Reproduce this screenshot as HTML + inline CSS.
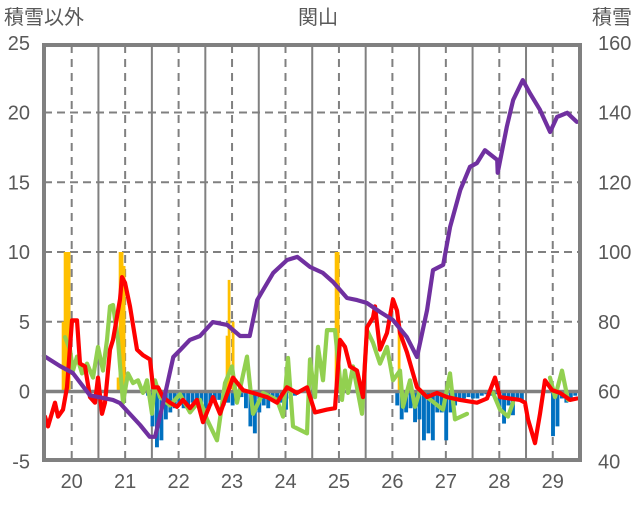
<!DOCTYPE html>
<html><head><meta charset="utf-8"><style>
body{margin:0;background:#fff}
svg text{font-family:"Liberation Sans","Noto Sans CJK JP",sans-serif;fill:#595959}
</style></head><body>
<svg id="c" width="636" height="501" xmlns="http://www.w3.org/2000/svg"></svg>
<script>
const leftTicks=[25,20,15,10,5,0,-5];
const rightTicks=[160,140,120,100,80,60,40];
const dayTicks=[20,21,22,23,24,25,26,27,28,29];
const depthDays=[19.48,19.78,20.02,20.34,20.77,20.90,21.28,21.46,21.56,21.71,21.90,22.03,22.21,22.40,22.64,22.91,23.15,23.33,23.47,23.58,23.77,24.03,24.22,24.46,24.70,24.89,25.15,25.34,25.52,25.77,26.01,26.27,26.46,26.65,26.76,26.95,27.08,27.27,27.45,27.58,27.73,27.96,27.97,28.14,28.26,28.44,28.57,28.76,28.95,29.08,29.27,29.45];
const depthVals=[70.2,67.3,65.3,58.9,57.6,56.7,50.4,47.0,47.0,56.7,69.9,71.9,74.8,75.9,79.9,79.1,75.9,75.9,86.2,89.1,94.0,97.7,98.6,95.7,94.0,91.4,86.8,86.2,85.4,82.8,80.5,75.6,69.9,83.4,94.8,96.3,107.2,117.8,124.4,125.5,129.2,126.4,122.7,135.9,143.6,149.3,145.6,140.8,134.4,138.7,139.9,137.3];
const redX=[45,48,55,58,63,67,72,77,80,85,90,95,98,102,105,110,113,120,122,125,130,137,143,150,153,158,163,170,177,183,190,197,203,213,220,233,243,253,267,277,287,297,307,315,327,335,340,345,350,357,363,367,373,375,380,387,393,397,400,407,417,427,437,447,460,477,487,495,500,520,525,528,535,540,545,552,560,570,577];
const redVals=[-1.8,-2.5,-0.8,-1.8,-1.3,0.3,5.1,5.1,2.0,1.8,-0.4,-0.8,1.0,-1.6,-0.8,3.0,3.7,6.6,8.2,7.8,6.1,3.0,2.6,2.3,0.3,0.3,-0.4,-0.8,-1.1,-0.6,-1.2,-0.6,-2.2,-0.4,-1.6,1.0,0.1,-0.1,-0.4,-0.8,0.3,-0.1,0.3,-1.5,-1.3,-1.2,3.7,3.2,1.8,1.5,-0.4,4.6,5.3,6.1,3.0,4.2,6.6,5.8,4.2,2.8,0.3,-0.4,-0.1,-0.4,-0.6,-0.8,-0.5,1.0,-0.4,-0.6,-0.8,-2.0,-3.7,-1.6,0.8,0.1,-0.1,-0.6,-0.5];
const greenX=[65,70,73,77,82,87,93,98,103,107,110,113,118,123,128,133,138,143,147,152,155,160,170,180,190,200,207,217,225,232,237,247,253,263,277,283,288,293,307,310,315,318,323,327,335,342,345,348,353,362,367,373,380,387,393,400,403,410,415,420,427,443,450,455,467,null,493,500,508,513,null,550,555,562,568];
const greenVals=[3.9,3.0,1.5,2.5,1.3,2.0,1.0,3.2,1.5,3.7,6.1,6.2,3.7,-0.8,1.3,0.6,0.8,-0.1,0.8,-1.6,0.8,-0.4,-1.0,-0.2,-1.5,-0.6,-2.0,-3.5,0.6,1.8,-0.8,2.5,-1.6,-0.1,-0.6,-1.8,2.4,-2.5,-3.0,2.3,-0.4,3.2,0.8,4.4,4.4,-0.6,1.5,-0.1,1.8,-1.6,4.4,3.5,2.0,3.2,0.8,1.5,-1.1,0.8,-1.1,0.1,-0.4,-1.3,1.3,-2.0,-1.6,null,-0.1,-1.3,-1.8,-0.8,null,1.0,-0.4,1.5,-0.6];
const snowX=[63,65,67,69,118,120,122,124,126,227,229,233,336,338,399];
const snowVals=[5,10,10,10,1,10,10,9,1,4,8,5,10,10,4.5];
const meltStartX=148;
const meltVals=[-0.3,-2.5,-4,-3.5,-2,-1.5,-1.2,-1,-1.2,-1,-0.8,-1,-0.8,-1.2,-1,-0.7,-0.6,-1,-0.8,-1,-0.5,-0.4,-1.2,-2.5,-3,-1.5,-1,-1.2,-0.5,-0.5,-0.8,-1.3,-0.5,-0.3,0,0,0,0,0,0,0,0,0,0,0,0,0,0,0,0,0,0,0,0,0,0,-1,-2,-1.5,-1.2,-2.2,-2,-3.5,-3,-3.5,-1.5,-1.5,-3.5,-1.5,-1,-0.7,-0.5,-0.4,-0.5,-0.5,-0.3,-0.2,-0.3,-0.2,-1.2,-2.3,-1,-1.7,-0.6,-0.6,0,0,0,0,0,0,-3.2,-2.5,-0.5,-0.8,-0.5,-0.3];

const NS="http://www.w3.org/2000/svg";
const svg=document.getElementById('c');
const L=44,R=580,T=45,B=460;
const xd=d=>71.7+(d-20)*53.45;
const yv=v=>391.5-13.95*v;
const ys=s=>yv((s-60)/4);
function mk(tag,attrs){const e=document.createElementNS(NS,tag);for(const k in attrs)e.setAttribute(k,attrs[k]);svg.appendChild(e);return e;}
leftTicks.forEach(v=>{if(v>-5&&v<25&&v!==0){const g=mk('line',{x1:L,x2:R,y1:yv(v),y2:yv(v),stroke:'#808080','stroke-width':2,'stroke-dasharray':'8,5'});

}});
dayTicks.forEach(d=>{const g=mk('line',{x1:xd(d),x2:xd(d),y1:T,y2:B,stroke:'#808080','stroke-width':2,'stroke-dasharray':'8,6'});


const h=mk('line',{x1:xd(d+0.5),x2:xd(d+0.5),y1:T,y2:B,stroke:'#808080','stroke-width':2});

});
const g0=mk('line',{x1:xd(19.5),x2:xd(19.5),y1:T,y2:B,stroke:'#808080','stroke-width':2});


snowX.forEach((x,i)=>{const r=mk('rect',{x:x-1.3,y:yv(snowVals[i]),width:2.8,height:yv(0)-yv(snowVals[i]),fill:'#ffc000'});

});
meltVals.forEach((v,i)=>{if(v<0){const x=meltStartX+4.45*i;const r=mk('rect',{x:x-1.9,y:yv(0),width:3.9,height:yv(v)-yv(0),fill:'#0070c0'});

}});
const z=mk('line',{x1:L,x2:R,y1:yv(0),y2:yv(0),stroke:'#808080','stroke-width':3.5});


function path(xs,vs,f,color,name){let d='',pen=false;xs.forEach((x,i)=>{if(x===null||vs[i]===null){pen=false;return;}d+=(pen?'L':'M')+x.toFixed(1)+','+f(vs[i]).toFixed(1);pen=true;});
const p=mk('path',{d:d,fill:'none',stroke:color,'stroke-width':4.2,'stroke-linejoin':'round','stroke-linecap':'round'});

}
path(greenX,greenVals,yv,'#92d050','green-series-line');
path(redX,redVals,yv,'#ff0000','red-series-line');
path(depthDays.map(xd),depthVals,ys,'#7030a0','snow-depth-line');
const fr=mk('rect',{x:L,y:T,width:R-L,height:B-T,fill:'none',stroke:'#808080','stroke-width':4});


function txt(x,y,s,anchor,name){const t=mk('text',{x:x,y:y,'font-size':20,'text-anchor':anchor});t.textContent=s;

}
leftTicks.forEach(v=>txt(30,yv(v)+7,String(v),'end','left-tick-label'));
rightTicks.forEach(s=>txt(598,ys(s)+7,String(s),'start','right-tick-label'));
dayTicks.forEach(d=>txt(xd(d),488,String(d),'middle','x-tick-label'));
txt(4,24,'積雪以外','start','left-axis-title');
txt(318,24,'関山','middle','chart-title');
txt(632,24,'積雪','end','right-axis-title');
</script>
</body></html>
